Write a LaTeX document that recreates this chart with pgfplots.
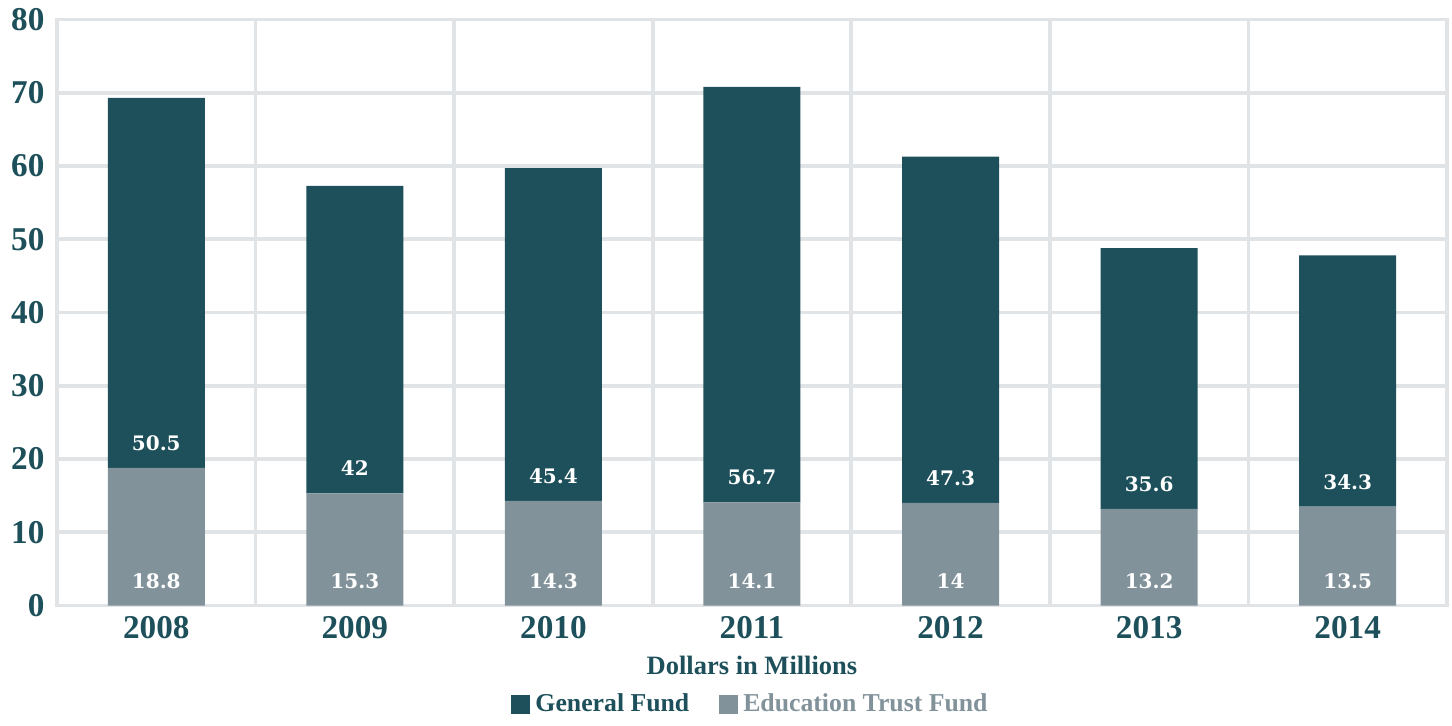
\documentclass[border=0pt]{standalone}
\usepackage{fontspec}
\setmainfont{Liberation Serif}
\newfontfamily\lblfont{DejaVu Serif}
\usepackage{pgfplots}
\usepackage{pgfplotstable}
\pgfplotsset{compat=1.18}
\definecolor{gf}{RGB}{29,80,90}
\definecolor{etf}{RGB}{130,146,154}
\definecolor{gridc}{RGB}{225,228,231}

% General Fund and Education Trust Fund, dollars in millions
\pgfplotstableread{
x year gf etf zero
0 2008 50.5 18.8 0
1 2009 42 15.3 0
2 2010 45.4 14.3 0
3 2011 56.7 14.1 0
4 2012 47.3 14 0
5 2013 35.6 13.2 0
6 2014 34.3 13.5 0
}\fundtable

\pgfplotsset{samebox/.style={
  scale only axis,
  width=556pt, height=234.4pt,
  xmin=-0.5, xmax=6.5,
  ymin=0, ymax=80,
}}

\begin{document}
\begin{tikzpicture}
\begin{axis}[
  samebox,
  ybar stacked,
  bar width=38.8pt,
  xtick={0,1,2,3,4,5,6},
  xticklabels={2008,2009,2010,2011,2012,2013,2014},
  minor xtick={-0.5,0.5,1.5,2.5,3.5,4.5,5.5,6.5},
  ytick={0,10,...,80},
  xminorgrids, ymajorgrids,
  major grid style={gridc, line width=1.5pt},
  minor grid style={gridc, line width=1.5pt},
  axis line style={gridc, line width=1.5pt},
  major tick length=0pt, minor tick length=0pt,
  tick label style={font=\fontsize{13.3}{13}\selectfont\bfseries, text=gf},
  yticklabel style={xshift=-1.5pt},
  xticklabel style={yshift=-1pt},
  /pgf/number format/assume math mode=true,
  xlabel={Dollars in Millions},
  xlabel style={at={(0.5,-0.1024)}, anchor=center, font=\fontsize{10.6}{12}\selectfont\bfseries, text=gf},
  legend style={at={(0.5,-0.169)}, anchor=center, draw=none, fill=none,
    font=\fontsize{10.3}{12}\selectfont\bfseries,
    /tikz/every even column/.append style={column sep=10pt}},
  legend columns=2,
  reverse legend,
  legend image code/.code={\fill[#1] (0pt,-3.8pt) rectangle (7.6pt,3.8pt);},
  clip=false,
]
\addplot[fill=etf, draw=none] table[x=x, y=etf] {\fundtable};
\addlegendentry{\textcolor{etf}{Education Trust Fund}}
\addplot[fill=gf, draw=none] table[x=x, y=gf] {\fundtable};
\addlegendentry{\textcolor{gf}{General Fund}}
\path (axis description cs:-0.041,-0.196) rectangle (axis description cs:1.0036,1.0307);
\end{axis}
% value labels, placed at the bottom of each segment
\begin{axis}[
  samebox,
  hide axis,
  clip=false,
  nodes near coords,
  point meta=explicit symbolic,
  every node near coord/.style={font=\lblfont\bfseries\fontsize{8}{8}\selectfont,
    text=white, anchor=base, yshift=7pt},
]
\addplot[draw=none, mark=none] table[x=x, y=zero, meta=etf] {\fundtable};
\addplot[draw=none, mark=none] table[x=x, y=etf, meta=gf] {\fundtable};
\end{axis}
\end{tikzpicture}
\end{document}
